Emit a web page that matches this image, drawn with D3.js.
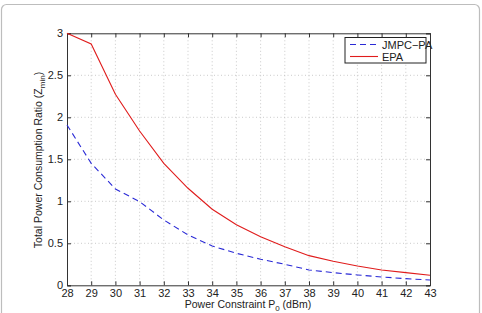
<!DOCTYPE html>
<html><head><meta charset="utf-8">
<script src="https://cdn.jsdelivr.net/npm/d3@7"></script>
<style>body{margin:0;background:#fff;}svg{display:block;font-family:"Liberation Sans",Arial,sans-serif;}</style>
</head><body>
<svg id="c" width="482" height="313"></svg>
<script>
const powerDbm = [28,29,30,31,32,33,34,35,36,37,38,39,40,41,42,43];
const jmpcPA = [1.909,1.452,1.147,0.996,0.778,0.600,0.468,0.381,0.310,0.250,0.183,0.151,0.123,0.099,0.079,0.063];
const epa = [3.0,2.873,2.274,1.837,1.452,1.155,0.905,0.722,0.579,0.460,0.353,0.286,0.230,0.183,0.151,0.119];
const xTicks = [28,29,30,31,32,33,34,35,36,37,38,39,40,41,42,43];
const yTicks = [0,0.5,1,1.5,2,2.5,3];
const seriesNames = ["JMPC\u2212PA","EPA"];

const svg = d3.select("#c");
svg.append("rect").attr("x",1.5).attr("y",4.5).attr("width",478).attr("height",318)
  .attr("rx",5).attr("fill","#fff").attr("stroke","#bdbdbd").attr("stroke-width",1.2);

const L=67, R=430, T=33.3, B=285.3;
const x = d3.scaleLinear().domain([28,43]).range([L,R]);
const y = d3.scaleLinear().domain([0,3]).range([B,T]);
const g = svg.append("g");

// grid
g.selectAll(".gx").data(xTicks.slice(1,-1)).enter().append("line")
  .attr("x1",d=>x(d)).attr("x2",d=>x(d)).attr("y1",T).attr("y2",B)
  .attr("stroke","#bcbcbc").attr("stroke-width",0.8).attr("stroke-dasharray","1,2.5");
g.selectAll(".gy").data(yTicks.slice(1,-1)).enter().append("line")
  .attr("y1",d=>y(d)).attr("y2",d=>y(d)).attr("x1",L).attr("x2",R)
  .attr("stroke","#bcbcbc").attr("stroke-width",0.8).attr("stroke-dasharray","1,2.5");

// axes
const xb = g.append("g").attr("transform",`translate(0,${B})`)
  .call(d3.axisBottom(x).tickValues(xTicks).tickSize(-4).tickPadding(4).tickFormat(d3.format("d")));
const xt = g.append("g").attr("transform",`translate(0,${T})`)
  .call(d3.axisTop(x).tickValues(xTicks).tickSize(-4).tickFormat(""));
const yl = g.append("g").attr("transform",`translate(${L},0)`)
  .call(d3.axisLeft(y).tickValues(yTicks).tickSize(-4).tickPadding(4).tickFormat(d=>d3.format("")(d)));
const yr = g.append("g").attr("transform",`translate(${R},0)`)
  .call(d3.axisRight(y).tickValues(yTicks).tickSize(-4).tickFormat(""));
[xb,xt,yl,yr].forEach(a=>{
  a.select(".domain").attr("stroke","#333").attr("stroke-width",1);
  a.selectAll(".tick line").attr("stroke","#333");
  a.selectAll("text").attr("font-size",11).attr("fill","#222").attr("font-family","Liberation Sans, Arial, sans-serif");
});

// lines
const line = arr => d3.line().x((d,i)=>x(powerDbm[i])).y(d=>y(d))(arr);
g.append("path").attr("d",line(jmpcPA)).attr("fill","none").attr("stroke","#2a2ad6")
  .attr("stroke-width",1.1).attr("stroke-dasharray","6,4");
g.append("path").attr("d",line(epa)).attr("fill","none").attr("stroke","#e01c1c").attr("stroke-width",1.1);

// legend
const lg = svg.append("g");
lg.append("rect").attr("x",345).attr("y",37.5).attr("width",81).attr("height",25.5)
  .attr("fill","#fff").attr("stroke","#222").attr("stroke-width",1);
lg.append("line").attr("x1",350).attr("x2",378).attr("y1",44.5).attr("y2",44.5)
  .attr("stroke","#2a2ad6").attr("stroke-width",1.1).attr("stroke-dasharray","6,4");
lg.append("line").attr("x1",350).attr("x2",378).attr("y1",56.5).attr("y2",56.5)
  .attr("stroke","#e01c1c").attr("stroke-width",1.1);
lg.append("text").attr("x",382).attr("y",48.5).attr("font-size",11).attr("fill","#222").text(seriesNames[0]);
lg.append("text").attr("x",382).attr("y",60.5).attr("font-size",11).attr("fill","#222").text(seriesNames[1]);

// axis labels
const xl = svg.append("text").attr("x",248).attr("y",308).attr("text-anchor","middle")
  .attr("font-size",10.5).attr("fill","#222");
xl.append("tspan").text("Power Constraint P");
xl.append("tspan").attr("font-size",8).attr("dy",3).text("0");
xl.append("tspan").attr("dy",-3).text(" (dBm)");

const ylab = svg.append("text").attr("transform","translate(42,160) rotate(-90)")
  .attr("text-anchor","middle").attr("font-size",10.5).attr("fill","#222");
ylab.append("tspan").text("Total Power Consumption Ratio (Z");
ylab.append("tspan").attr("font-size",8).attr("dy",3).text("min");
ylab.append("tspan").attr("dy",-3).text(")");
</script>
</body></html>
